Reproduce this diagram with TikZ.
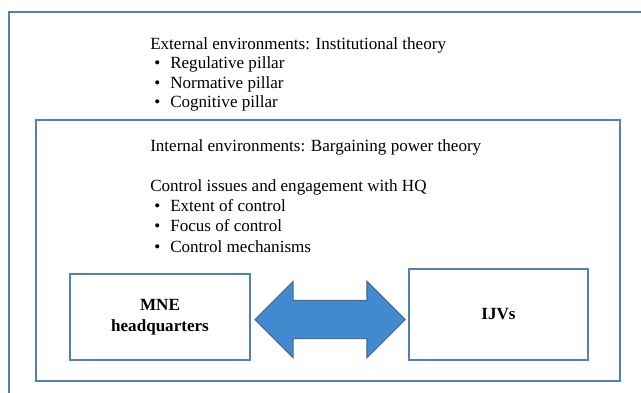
\documentclass[tikz,border=0pt]{standalone}
\usepackage{fontspec}
\setmainfont{Liberation Serif}
\usepackage{tikz}
\usetikzlibrary{shapes.arrows, positioning, calc}

\definecolor{framecol}{HTML}{4F81BD}
\definecolor{arrowfill}{HTML}{4389CD}
\definecolor{arrowline}{HTML}{3A6FA8}

\begin{document}
\begin{tikzpicture}[
    x=0.75pt, y=-0.75pt,
    frame/.style={draw=framecol, line width=1pt},
    line/.style={anchor=base west, inner sep=0pt, font=\fontsize{12.8}{15}\selectfont},
    item/.style={line, xshift=3pt},
    unitbox/.style={rectangle, draw=framecol, line width=1pt, align=center, font=\fontsize{12.8}{15.5}\selectfont\bfseries},
    link/.style={double arrow, draw=arrowline, fill=arrowfill, line width=0.8pt, minimum height=112.5pt, inner xsep=0pt, inner ysep=13.875pt, double arrow head extend=14.25pt},
]
    \clip (0,0) rectangle (641,392);

    % frames
    \draw [frame] (9,12) rectangle (700,450);
    \draw [frame] (36,120) rectangle (620,381);

    % external environments
    \node (ext) [line] at (150,50) {External environments: Institutional theory};
    \node (reg) [item] at (150,69) {\makebox[12pt][l]{\textbullet}Regulative pillar};
    \node (norm) [item] at (150,88.5) {\makebox[12pt][l]{\textbullet}Normative pillar};
    \node (cog) [item] at (150,108) {\makebox[12pt][l]{\textbullet}Cognitive pillar};

    % internal environments
    \node (int) [line] at (150,151) {Internal environments: Bargaining power theory};
    \node (ctrl) [line] at (150,191) {Control issues and engagement with HQ};
    \node (extent) [item] at (150,211) {\makebox[12pt][l]{\textbullet}Extent of control};
    \node (focus) [item] at (150,231.5) {\makebox[12pt][l]{\textbullet}Focus of control};
    \node (mech) [item] at (150,252) {\makebox[12pt][l]{\textbullet}Control mechanisms};

    % headquarters and joint ventures
    \node (mne) [unitbox, minimum width=135pt, minimum height=64.5pt] at (160,317) {MNE\\headquarters};
    \node (ijv) [unitbox, minimum width=134.25pt, minimum height=68.25pt] at (498.5,314.5) {IJVs};
    \node (rel) [link] at (330,319.5) {};

\end{tikzpicture}
\end{document}
